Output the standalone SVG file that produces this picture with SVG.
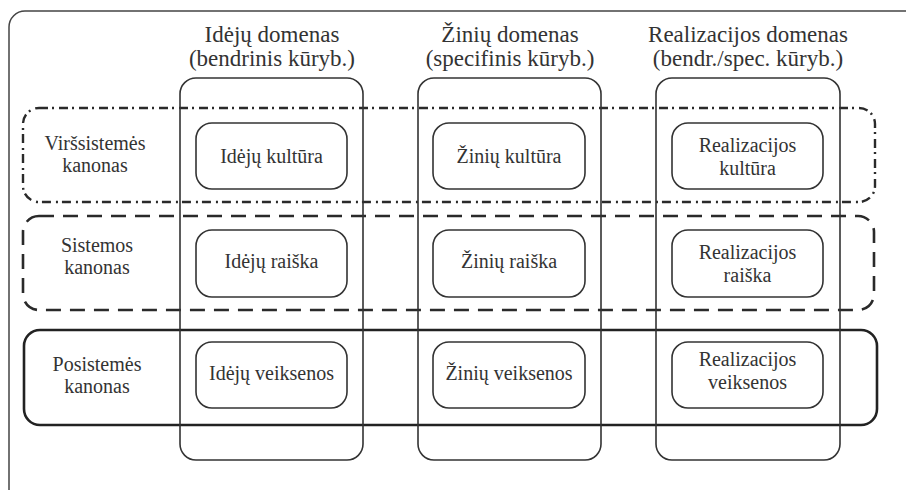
<svg xmlns="http://www.w3.org/2000/svg" width="906" height="490" viewBox="0 0 906 490">
<style>
text{font-family:'Liberation Serif','Tinos','Times New Roman','DejaVu Serif',serif;fill:#333;text-anchor:middle}
.h{font-size:23px}
.t{font-size:20px}
.col{fill:none;stroke:#333;stroke-width:1.6}
.node{fill:#fff;stroke:#333;stroke-width:1.6}
.r1{fill:none;stroke:#2a2a2a;stroke-width:2.4;stroke-dasharray:9 4 2 5}
.r2{fill:none;stroke:#2a2a2a;stroke-width:2.6;stroke-dasharray:15 9}
.r3{fill:none;stroke:#222;stroke-width:2.6}
</style>
<rect width="906" height="490" fill="#fff"/>
<g id="frame"><rect x="9" y="11" width="920" height="495" rx="16" fill="none" stroke="#444" stroke-width="1.5"/></g>
<g id="rows">
<rect id="row-virs" class="r1" x="23" y="108" width="852" height="94" rx="16"/>
<rect id="row-sis" class="r2" x="23" y="216" width="851" height="94" rx="16"/>
<rect id="row-pos" class="r3" x="24" y="330" width="853" height="95" rx="16"/>
</g>
<g id="columns">
<rect class="col" x="180" y="78" width="183" height="382" rx="16"/>
<rect class="col" x="418" y="78" width="183" height="382" rx="16"/>
<rect class="col" x="656" y="78" width="184" height="382" rx="16"/>
</g>
<g id="headers">
<text class="h" x="272" y="42">Idėjų domenas</text>
<text class="h" x="272" y="66">(bendrinis kūryb.)</text>
<text class="h" x="510" y="42">Žinių domenas</text>
<text class="h" x="510" y="66">(specifinis kūryb.)</text>
<text class="h" x="748" y="42">Realizacijos domenas</text>
<text class="h" x="748" y="66">(bendr./spec. kūryb.)</text>
</g>
<g id="row-labels">
<text class="t" x="95" y="150">Viršsistemės</text>
<text class="t" x="95" y="172">kanonas</text>
<text class="t" x="97" y="252">Sistemos</text>
<text class="t" x="97" y="274">kanonas</text>
<text class="t" x="97" y="371">Posistemės</text>
<text class="t" x="97" y="393">kanonas</text>
</g>
<g id="n-idk"><rect class="node" x="196" y="123" width="151" height="66" rx="16"/><text class="t" x="271.5" y="163">Idėjų kultūra</text></g>
<g id="n-zk"><rect class="node" x="433" y="123" width="152" height="66" rx="16"/><text class="t" x="509" y="163">Žinių kultūra</text></g>
<g id="n-rk"><rect class="node" x="672" y="123" width="151" height="66" rx="16"/><text class="t" x="747.5" y="152">Realizacijos</text><text class="t" x="747.5" y="175">kultūra</text></g>
<g id="n-idr"><rect class="node" x="196" y="230" width="151" height="67" rx="16"/><text class="t" x="271.5" y="268">Idėjų raiška</text></g>
<g id="n-zr"><rect class="node" x="433" y="230" width="152" height="67" rx="16"/><text class="t" x="509" y="268">Žinių raiška</text></g>
<g id="n-rr"><rect class="node" x="672" y="230" width="151" height="67" rx="16"/><text class="t" x="747.5" y="259">Realizacijos</text><text class="t" x="747.5" y="282">raiška</text></g>
<g id="n-idv"><rect class="node" x="196" y="342" width="151" height="66" rx="16"/><text class="t" x="271.5" y="380">Idėjų veiksenos</text></g>
<g id="n-zv"><rect class="node" x="433" y="342" width="152" height="66" rx="16"/><text class="t" x="509" y="380">Žinių veiksenos</text></g>
<g id="n-rv"><rect class="node" x="672" y="342" width="151" height="66" rx="16"/><text class="t" x="747.5" y="366">Realizacijos</text><text class="t" x="747.5" y="389">veiksenos</text></g>
<g id="connectors"></g>
</svg>
